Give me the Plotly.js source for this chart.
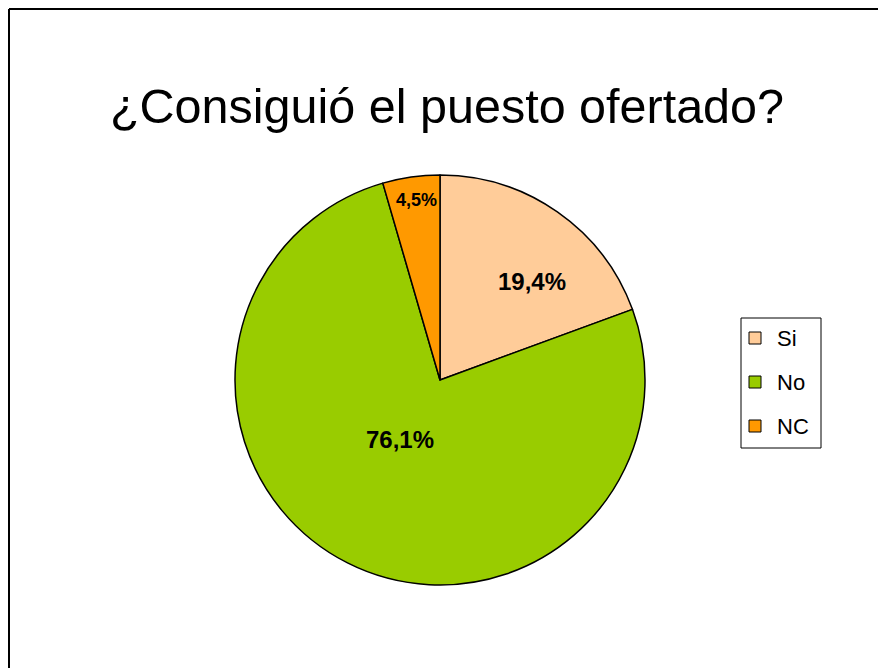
<!DOCTYPE html>
<html>
<head>
<meta charset="utf-8">
<script src="https://cdn.plot.ly/plotly-3.0.1.min.js"></script>
<style>
html,body{margin:0;padding:0;background:#fff;}
#chart{width:878px;height:668px;}
</style>
</head>
<body>
<div id="chart"></div>
<script>
var categories = ["Si", "No", "NC"];
var percents = [19.4, 76.1, 4.5];
var colors = ["#FFCC99", "#99CC00", "#FF9900"];
var labelSizes = [24, 24, 18];
var titleText = "¿Consiguió el puesto ofertado?";

var W = 878, H = 668;
function px(x){return x / W;}
function py(y){return 1 - y / H;}

var trace = {
  type: "pie",
  labels: categories,
  values: percents,
  sort: false,
  direction: "clockwise",
  rotation: 0,
  marker: {colors: colors, line: {color: "#000000", width: 1.5}},
  textinfo: "none",
  hoverinfo: "label+percent",
  showlegend: false,
  domain: {x: [px(235), px(645)], y: [py(585), py(175)]}
};

var shapes = [
  {type: "line", xref: "paper", yref: "paper", x0: px(9), x1: 1, y0: py(9), y1: py(9),
   line: {color: "#000000", width: 2}},
  {type: "line", xref: "paper", yref: "paper", x0: px(9), x1: px(9), y0: py(9), y1: 0,
   line: {color: "#000000", width: 2}},
  {type: "rect", xref: "paper", yref: "paper", x0: px(741), x1: px(821), y0: py(318), y1: py(448),
   line: {color: "#000000", width: 1}, fillcolor: "#ffffff"}
];
var annotations = [];
var legendY = [338, 382, 426];
categories.forEach(function(c, i){
  shapes.push({type: "rect", xref: "paper", yref: "paper",
    x0: px(749), x1: px(761), y0: py(legendY[i] - 6), y1: py(legendY[i] + 6),
    line: {color: "#000000", width: 1}, fillcolor: colors[i]});
  annotations.push({xref: "paper", yref: "paper", x: px(775), y: py(legendY[i]),
    xanchor: "left", yanchor: "middle", showarrow: false, text: c,
    font: {family: "Liberation Sans, Arial, sans-serif", size: 22, color: "#000000"}});
});

// data label positions (pixel centres of the text)
var labelPos = [[532, 282], [400, 439], [416, 200]];
percents.forEach(function(v, i){
  annotations.push({xref: "paper", yref: "paper", x: px(labelPos[i][0]), y: py(labelPos[i][1]),
    xanchor: "center", yanchor: "middle", showarrow: false,
    text: v.toFixed(1).replace(".", ",") + "%",
    font: {family: "Liberation Sans, Arial, sans-serif", size: labelSizes[i], color: "#000000", weight: "bold"}});
});

var layout = {
  width: W, height: H,
  margin: {l: 0, r: 0, t: 0, b: 0},
  paper_bgcolor: "#ffffff",
  title: {text: titleText, x: px(447), xanchor: "center", y: py(106), yanchor: "middle",
          font: {family: "Liberation Sans, Arial, sans-serif", size: 48.5, color: "#000000"}},
  shapes: shapes,
  annotations: annotations,
  showlegend: false
};

Plotly.newPlot("chart", [trace], layout, {displayModeBar: false, staticPlot: true});
</script>
</body>
</html>
